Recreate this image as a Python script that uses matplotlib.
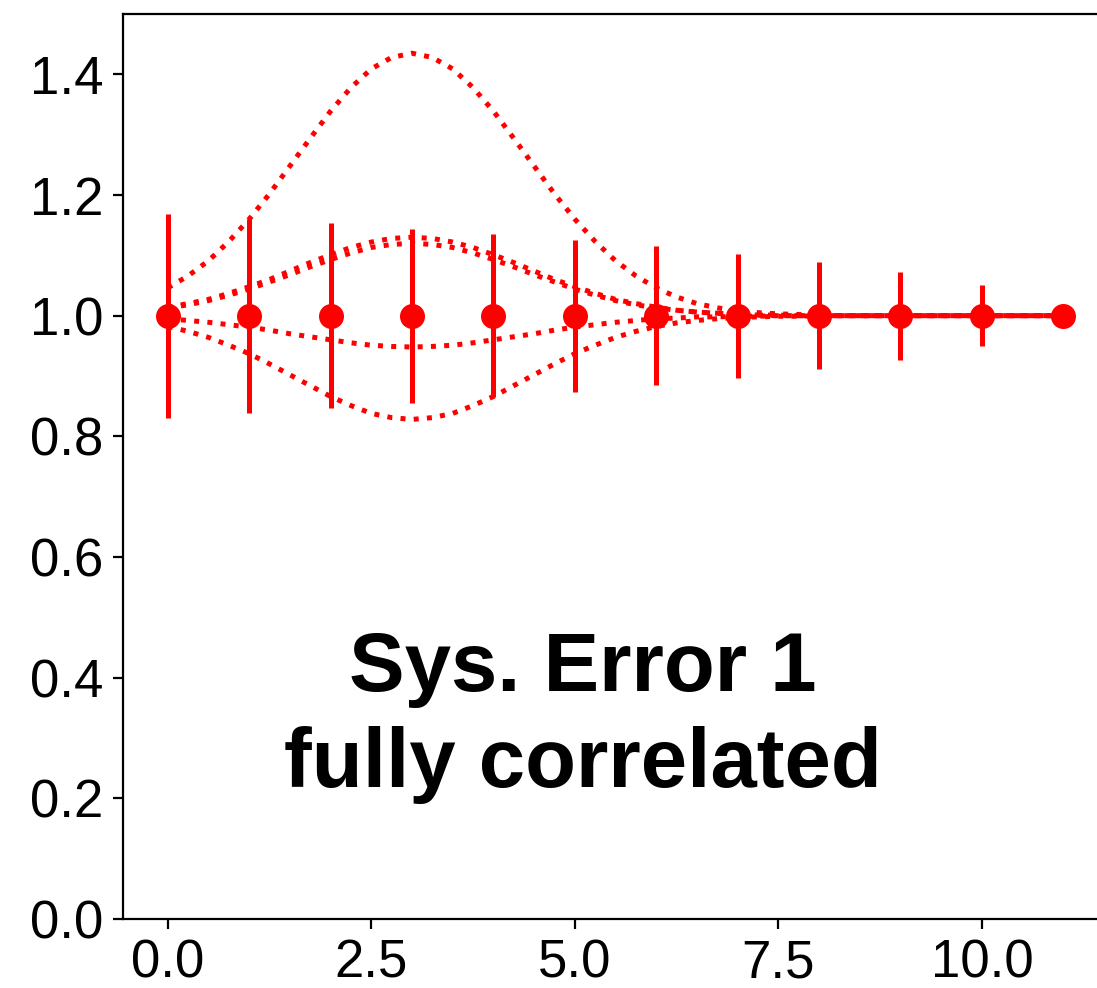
import numpy as np
import matplotlib
matplotlib.use('Agg')
import matplotlib.pyplot as plt

plt.rcParams['font.family'] = ['Liberation Sans', 'DejaVu Sans']

# measured points with their errors
x_pts = list(range(12))
y_pts = [1.0] * 12
y_err = [0.169, 0.161, 0.153, 0.144, 0.135, 0.126, 0.115, 0.103, 0.089, 0.073, 0.051, 0.0]

# dotted systematic curves, read every 0.25 from 0 to 11
x_curve = [i * 0.25 for i in range(45)]
tail = [1.0] * 12

curve_a = [1.046, 1.066, 1.091, 1.123, 1.160, 1.202, 1.248, 1.294, 1.339, 1.378, 1.409, 1.428, 1.435,
           1.428, 1.409, 1.378, 1.339, 1.294, 1.248, 1.202, 1.160, 1.123, 1.091, 1.066, 1.046,
           1.031, 1.020, 1.013, 1.008, 1.005, 1.003, 1.002, 1.001] + tail
curve_b1 = [1.014, 1.020, 1.027, 1.037, 1.048, 1.060, 1.074, 1.088, 1.101, 1.113, 1.122, 1.128, 1.130,
            1.128, 1.122, 1.113, 1.101, 1.088, 1.074, 1.060, 1.048, 1.037, 1.027, 1.020, 1.014,
            1.009, 1.006, 1.004, 1.002, 1.001, 1.001, 1.000, 1.000] + tail
curve_b2 = [1.013, 1.018, 1.025, 1.034, 1.044, 1.056, 1.068, 1.081, 1.093, 1.104, 1.113, 1.118, 1.120,
            1.118, 1.113, 1.104, 1.093, 1.081, 1.068, 1.056, 1.044, 1.034, 1.025, 1.018, 1.013,
            1.009, 1.006, 1.004, 1.002, 1.001, 1.000, 1.000, 1.000] + tail
curve_c = [0.995, 0.992, 0.989, 0.985, 0.981, 0.976, 0.970, 0.965, 0.960, 0.955, 0.951, 0.949, 0.948,
           0.949, 0.951, 0.955, 0.960, 0.965, 0.970, 0.976, 0.981, 0.985, 0.989, 0.992, 0.995,
           0.996, 0.998, 0.998, 0.999, 0.999, 1.000, 1.000, 1.000] + tail
curve_d = [0.982, 0.974, 0.964, 0.951, 0.937, 0.920, 0.902, 0.884, 0.866, 0.851, 0.838, 0.831, 0.828,
           0.831, 0.838, 0.851, 0.866, 0.884, 0.902, 0.920, 0.937, 0.951, 0.964, 0.974, 0.982,
           0.988, 0.992, 0.995, 0.997, 0.998, 0.999, 0.999, 1.000] + tail

x_ticks = [0.0, 2.5, 5.0, 7.5, 10.0]
y_ticks = [0.0, 0.2, 0.4, 0.6, 0.8, 1.0, 1.2, 1.4]

fig = plt.figure(figsize=(1097 / 200, 988 / 200), dpi=200)
ax = fig.add_axes([123 / 1097, 69 / 988, 985 / 1097, 905 / 988])

for c in [curve_a, curve_b1, curve_b2, curve_c, curve_d]:
    ax.plot(x_curve, c, ':', color='red', lw=1.8)

ax.errorbar(x_pts, y_pts, yerr=y_err, fmt='o', color='red', ms=8, elinewidth=1.8, capsize=0)

ax.text(5.1, 0.335, 'Sys. Error 1\nfully correlated', ha='center', va='center',
        fontsize=30, fontweight='bold', linespacing=1.3)

ax.set_xlim(-0.55, 11.55)
ax.set_ylim(0, 1.5)
ax.set_xticks(x_ticks)
ax.set_yticks(y_ticks)
ax.tick_params(labelsize=19)

fig.savefig('out.png', dpi=200)
